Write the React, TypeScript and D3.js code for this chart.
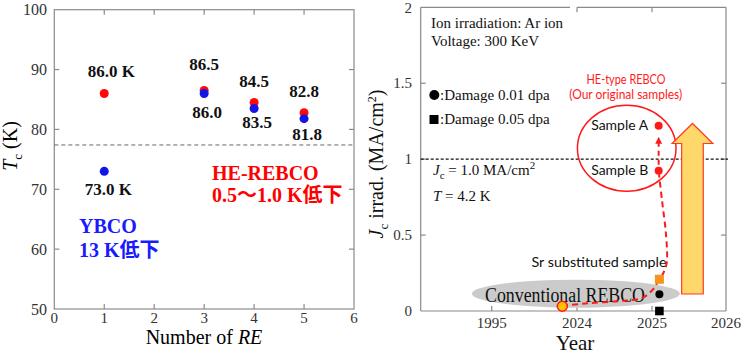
import React from 'react';
import * as d3 from 'd3';

// ---------- Left chart data ----------
const reCounts = [1, 3, 4, 5];
const heRebcoTc = [86.0, 86.5, 84.5, 82.8];
const ybcoTc = [73.0, 86.0, 83.5, 81.8];
const heLabels = ['86.0 K', '86.5', '84.5', '82.8'];
const ybcoLabels = ['73.0 K', '86.0', '83.5', '81.8'];
const leftXTicks = [0, 1, 2, 3, 4, 5, 6];
const leftYTicks = [50, 60, 70, 80, 90, 100];
const ln2Temp = 77.4;

// ---------- Right chart data ----------
const yearTicks = [1995, 2024, 2025, 2026];
const yearTickLabels = ['1995', '2024', '2025', '2026'];
const jcTicks = [0, 0.5, 1, 1.5, 2];
const jcTickLabels = ['0', '0.5', '1', '1.5', '2'];
const jcRef = 1.0;
const conventional = { year: 2019.0, jc: 0.031 };
const srSample = { year: 2025.1, jc: 0.209 };
const damage001 = { year: 2025.1, jc: 0.11 };
const damage005 = { year: 2025.1, jc: 0.0 };
const sampleA = { year: 2025.09, jc: 1.22 };
const sampleB = { year: 2025.09, jc: 0.924 };
const trendPath: [number, number][] = [
  [2019.0, 0.031], [2020.3, 0.036], [2024.15, 0.051], [2024.57, 0.066], [2024.86, 0.084],
  [2024.99, 0.13], [2025.08, 0.191], [2025.16, 0.257], [2025.2, 0.322], [2025.19, 0.5],
  [2025.135, 0.73], [2025.095, 0.9],
];
const improveArrow = { year: 2025.547, jcBottom: 0.112, jcHeadBase: 1.103, jcTip: 1.235 };
const heEllipse = { year: 2024.663, jc: 1.072 };
const convEllipse = { year: 2023.6, jc: 0.114 };

const SERIF = "'Liberation Serif', 'Times New Roman', serif";
const SERIF_CJK = "'Liberation Serif', 'Noto Sans CJK JP', serif";
const SANS = "Lato, 'Liberation Sans', sans-serif";
const FRAME = '#8a8a8a';
const TICKTXT = '#333';

export default function App() {
  // Left scales
  const xL = d3.scaleLinear().domain([0, 6]).range([54.3, 354]);
  const yL = d3.scaleLinear().domain([50, 100]).range([309, 9.7]);
  // Right scales
  const xR = d3.scaleLinear().domain(yearTicks).range([491.7, 577, 652, 726]);
  const yR = d3.scaleLinear().domain([0, 2]).range([311, 7.3]);
  const RL = 420.7;
  const RR = 726;
  const tick = 5;

  const heDy = [-17, -20.5, -15.5, -16];
  const ybDy = [23.7, 24.8, 20, 21.4];
  const ybDx = [-3, 0, 0, 0];

  const line = d3.line<[number, number]>()
    .x(d => xR(d[0]))
    .y(d => yR(d[1]))
    .curve(d3.curveCatmullRom.alpha(0.5));

  const ax = xR(improveArrow.year);
  const aB = yR(improveArrow.jcBottom);
  const aH = yR(improveArrow.jcHeadBase);
  const aT = yR(improveArrow.jcTip);
  const sw = 10.8, hw = 20.4;
  const arrowPath = `M${ax - sw},${aB} L${ax - sw},${aH} L${ax - hw},${aH} L${ax},${aT} L${ax + hw},${aH} L${ax + sw},${aH} L${ax + sw},${aB} Z`;

  const sbx = xR(sampleB.year);
  const arrowTipY = yR(1.147);

  return (
    <svg width={750} height={356} style={{ position: 'absolute', left: 0, top: 0, background: '#fff' }}
      fontFamily={SERIF}>
      {/* ================= LEFT CHART ================= */}
      <g>
        <rect x={xL(0)} y={yL(100)} width={xL(6) - xL(0)} height={yL(50) - yL(100)} fill="none" stroke={FRAME} strokeWidth={1.2} />
        {leftXTicks.slice(1, -1).map(t => (
          <g key={'lxt' + t}>
            <line x1={xL(t)} x2={xL(t)} y1={yL(100)} y2={yL(100) + tick} stroke={FRAME} strokeWidth={1.2} />
            <line x1={xL(t)} x2={xL(t)} y1={yL(50)} y2={yL(50) - tick} stroke={FRAME} strokeWidth={1.2} />
          </g>
        ))}
        {leftXTicks.map(t => (
          <text key={'lxl' + t} x={xL(t)} y={322.8} textAnchor="middle" fontSize={15} fill={TICKTXT}>{t}</text>
        ))}
        {leftYTicks.slice(1, -1).map(t => (
          <g key={'lyt' + t}>
            <line x1={xL(0)} x2={xL(0) + tick} y1={yL(t)} y2={yL(t)} stroke={FRAME} strokeWidth={1.2} />
            <line x1={xL(6)} x2={xL(6) - tick} y1={yL(t)} y2={yL(t)} stroke={FRAME} strokeWidth={1.2} />
          </g>
        ))}
        {leftYTicks.map(t => (
          <text key={'lyl' + t} x={47} y={yL(t)} dy="0.35em" textAnchor="end" fontSize={16} fill={TICKTXT}>{t}</text>
        ))}
        <line x1={xL(0)} x2={xL(6)} y1={yL(ln2Temp)} y2={yL(ln2Temp)} stroke="#666" strokeWidth={1} strokeDasharray="4,3" />

        {reCounts.map((r, i) => (
          <g key={'pt' + r}>
            <circle cx={xL(r)} cy={yL(heRebcoTc[i])} r={4.5} fill="#ff0a0a" />
            <circle cx={xL(r)} cy={yL(ybcoTc[i])} r={4.5} fill="#1414e6" />
          </g>
        ))}
        {reCounts.map((r, i) => (
          <g key={'lb' + r} fontWeight="bold" fontSize={17} fill="#111">
            <text x={xL(r) + (i === 0 ? 7 : 0)} y={yL(heRebcoTc[i]) + heDy[i]} textAnchor="middle">{heLabels[i]}</text>
            <text x={xL(r) + ybDx[i] + (i === 0 ? 7 : 3)} y={yL(ybcoTc[i]) + ybDy[i]} textAnchor="middle">{ybcoLabels[i]}</text>
          </g>
        ))}

        <g fontWeight="bold" fontSize={20} fill="#ff0000" fontFamily={SERIF_CJK}>
          <text x={212} y={180}>HE-REBCO</text>
          <text x={212} y={201.7}>0.5～1.0 K低下</text>
        </g>
        <g fontWeight="bold" fontSize={20} fill="#1a1aff" fontFamily={SERIF_CJK}>
          <text x={79} y={233.3}>YBCO</text>
          <text x={79} y={257}>13 K低下</text>
        </g>

        <text x={204} y={343.5} textAnchor="middle" fontSize={20}>
          Number of <tspan fontStyle="italic">RE</tspan>
        </text>
        <text transform="translate(17,146) rotate(-90)" textAnchor="middle" fontSize={20}>
          <tspan fontStyle="italic">T</tspan><tspan fontSize={13} dy={5}>c</tspan><tspan dy={-5}> (K)</tspan>
        </text>
      </g>

      {/* ================= RIGHT CHART ================= */}
      <g>
        {/* axes frame */}
        <line x1={RL} x2={RL} y1={yR(2)} y2={yR(0)} stroke={FRAME} strokeWidth={1.2} />
        <line x1={RR} x2={RR} y1={yR(2)} y2={yR(0)} stroke={FRAME} strokeWidth={1.2} />
        <line x1={RL} x2={RR} y1={yR(0)} y2={yR(0)} stroke={FRAME} strokeWidth={1.2} />
        <line x1={RL} x2={xR(2024) - 7} y1={yR(2)} y2={yR(2)} stroke={FRAME} strokeWidth={1.2} />
        <line x1={xR(2024)} x2={RR} y1={yR(2)} y2={yR(2)} stroke={FRAME} strokeWidth={1.2} />
        {yearTicks.slice(1, 3).map(t => (
          <g key={'rxt' + t}>
            <line x1={xR(t)} x2={xR(t)} y1={yR(2)} y2={yR(2) + tick} stroke={FRAME} strokeWidth={1.2} />
          </g>
        ))}
        {yearTicks.slice(0, 3).map(t => (
          <line key={'rxb' + t} x1={xR(t)} x2={xR(t)} y1={yR(0)} y2={yR(0) - tick} stroke={FRAME} strokeWidth={1.2} />
        ))}
        {yearTicks.map((t, i) => (
          <text key={'rxl' + t} x={xR(t)} y={328.3} textAnchor="middle" fontSize={15} fill={TICKTXT}>{yearTickLabels[i]}</text>
        ))}
        {jcTicks.slice(1, -1).map(t => (
          <g key={'ryt' + t}>
            <line x1={RL} x2={RL + tick} y1={yR(t)} y2={yR(t)} stroke={FRAME} strokeWidth={1.2} />
            <line x1={RR} x2={RR - tick} y1={yR(t)} y2={yR(t)} stroke={FRAME} strokeWidth={1.2} />
          </g>
        ))}
        {jcTicks.map((t, i) => (
          <text key={'ryl' + t} x={412} y={yR(t)} dy="0.35em" textAnchor="end" fontSize={15} fill={TICKTXT}>{jcTickLabels[i]}</text>
        ))}

        {/* Jc = 1 reference line */}
        <line x1={RL} x2={RR + 2} y1={yR(jcRef)} y2={yR(jcRef)} stroke="#111" strokeWidth={1.2} strokeDasharray="3,2" />

        {/* Notes */}
        <g fontSize={15} fill="#111">
          <text x={431} y={28.3}>Ion irradiation: Ar ion</text>
          <text x={431} y={46.3}>Voltage: 300 KeV</text>
          <circle cx={434.3} cy={95} r={5} fill="#000" />
          <text x={440} y={100}>:Damage 0.01 dpa</text>
          <rect x={429.5} y={115} width={9} height={9} fill="#000" />
          <text x={440} y={124}>:Damage 0.05 dpa</text>
          <text x={433} y={175}>
            <tspan fontStyle="italic">J</tspan><tspan fontSize={11} dy={4}>c</tspan><tspan dy={-4}> = 1.0 MA/cm</tspan><tspan fontSize={11} dy={-6}>2</tspan>
          </text>
          <text x={433} y={200.7}><tspan fontStyle="italic">T</tspan> = 4.2 K</text>
        </g>

        {/* Conventional ellipse */}
        <ellipse cx={xR(convEllipse.year)} cy={yR(convEllipse.jc)} rx={104} ry={14} fill="#cbcbcb" />
        <text x={565} y={301.5} textAnchor="middle" fontSize={20} textLength={160} lengthAdjust="spacingAndGlyphs" fill="#111">Conventional  REBCO</text>

        {/* HE ellipse */}
        <ellipse cx={xR(heEllipse.year)} cy={yR(heEllipse.jc)} rx={49.3} ry={43} fill="none" stroke="#ff1a1a" strokeWidth={1.5} />
        <g fontFamily={SANS} fill="#ff1a1a" fontSize={13} textAnchor="middle">
          <text x={626} y={83.5} textLength={79} lengthAdjust="spacingAndGlyphs">HE-type REBCO</text>
          <text x={625.7} y={98.8} textLength={113} lengthAdjust="spacingAndGlyphs">(Our original samples)</text>
        </g>
        <g fontFamily={SANS} fill="#111" fontSize={14} textAnchor="middle">
          <text x={619.7} y={130} textLength={57} lengthAdjust="spacingAndGlyphs">Sample A</text>
          <text x={619.7} y={175.3} textLength={57} lengthAdjust="spacingAndGlyphs">Sample B</text>
          <text x={599} y={266.5} textLength={135} lengthAdjust="spacingAndGlyphs">Sr substituted sample</text>
        </g>

        {/* Improvement arrow */}
        <path d={arrowPath} fill="#ffd86b" stroke="#ff3b1f" strokeWidth={1.2} />

        {/* Trend dashed path */}
        <path d={line(trendPath) || ''} fill="none" stroke="#ff1a1a" strokeWidth={2} strokeDasharray="6,4" />
        <line x1={sbx} x2={sbx} y1={yR(sampleB.jc) - 6} y2={arrowTipY + 6} stroke="#ff1a1a" strokeWidth={2} strokeDasharray="5,4" />
        <path d={`M${sbx},${arrowTipY} L${sbx - 3.5},${arrowTipY + 7} L${sbx + 3.5},${arrowTipY + 7} Z`} fill="#ff1a1a" />

        {/* Points */}
        <circle cx={xR(conventional.year)} cy={yR(conventional.jc)} r={5} fill="#ffc000" stroke="#ff1a1a" strokeWidth={1.5} />
        <rect x={xR(srSample.year) - 4.5} y={yR(srSample.jc) - 4.5} width={9} height={9} fill="#f7941d" />
        <circle cx={xR(damage001.year)} cy={yR(damage001.jc)} r={4} fill="#000" />
        <rect x={xR(damage005.year) - 4.3} y={yR(damage005.jc) - 4.3} width={8.6} height={8.6} fill="#000" />
        <circle cx={xR(sampleA.year)} cy={yR(sampleA.jc)} r={4} fill="#ff1a1a" />
        <circle cx={xR(sampleB.year)} cy={yR(sampleB.jc)} r={4} fill="#ff1a1a" />

        {/* Axis titles */}
        <text x={575} y={350} textAnchor="middle" fontSize={21} fill="#111">Year</text>
        <text transform="translate(383,164) rotate(-90)" textAnchor="middle" fontSize={20} fill="#111">
          <tspan fontStyle="italic">J</tspan><tspan fontSize={13} dy={5}>c</tspan><tspan dy={-5}> irrad. (MA/cm</tspan><tspan fontSize={12} dy={-7}>2</tspan><tspan dy={7}>)</tspan>
        </text>
      </g>
    </svg>
  );
}
